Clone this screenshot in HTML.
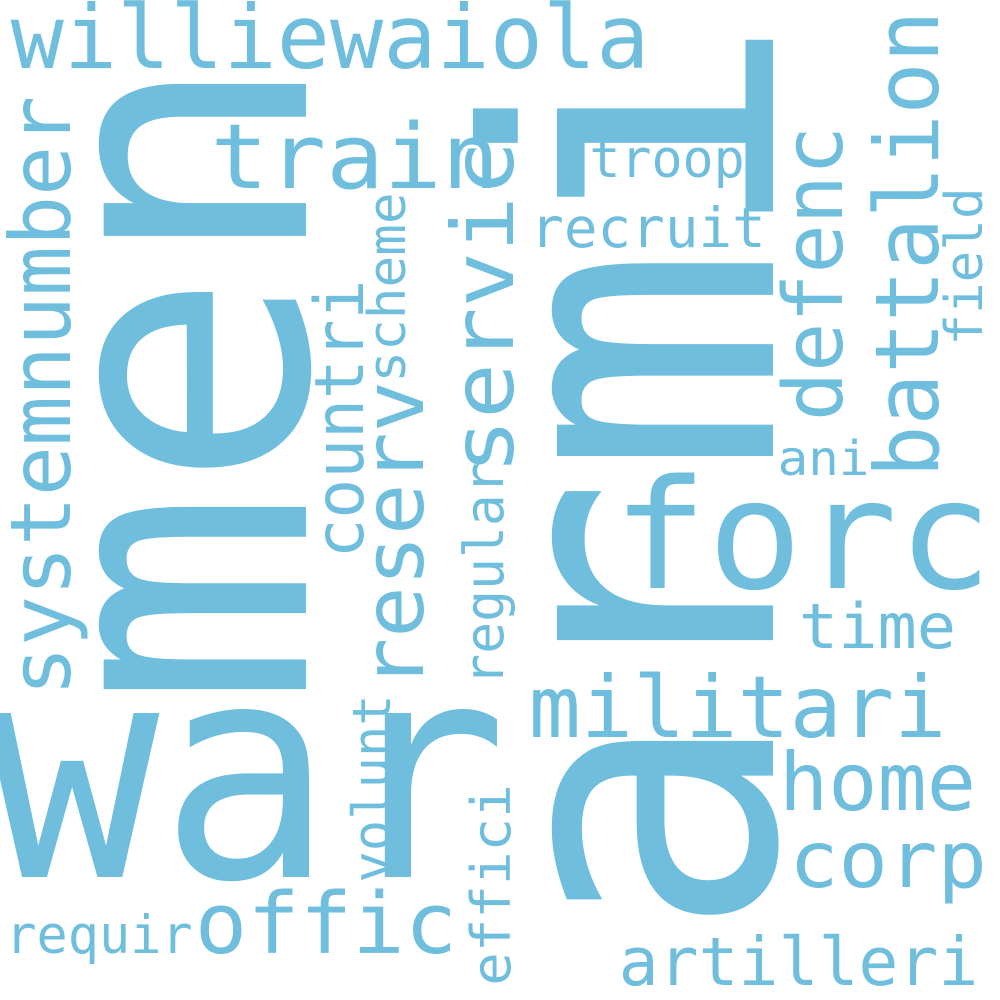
<!DOCTYPE html>
<html><head><meta charset="utf-8"><style>
html,body{margin:0;padding:0;background:#fff;}
svg{display:block;}
text{font-family:"DejaVu Sans Mono","Liberation Mono",monospace;fill:#70bedd;}
</style></head><body>
<svg id="cloud" width="1000" height="1000" viewBox="0 0 1000 1000" xmlns="http://www.w3.org/2000/svg">
<rect width="1000" height="1000" fill="#fff"/>
</svg>
<script>
const words = ["williewaiola","train","troop","recruit","forc","ani","time","militari","home","corp","artilleri","offic","requir","war",
"systemnumber","men","countri","scheme","reserv","servic","regular","armi","defenc","battalion","field","volunt","effici"];
const sizes = [88,90,53,55,152,48,62,86,80,78,67,85,53,300,
84,370,68,52,84,86,54,395,82,88,52,53,54];
const vertical = [0,0,0,0,0,0,0,0,0,0,0,0,0,0,
1,1,1,1,1,1,1,1,1,1,1,1,1];
const anchorX = [15,215,592,533,620,780,802,533,783,793,622,199,8,0,
70,306,363,405,423,513,503,773,842,938,982,390,510];
const anchorY = [68,188,177,247,588,475,648,737,810,887,985,953,953,877,
692,690,555,380,685,470,683,920,417,473,343,880,983];
const spans = [630,280,150,230,365,87,151,409,189,190,353,254,182,493,
592,620,272,185,300,325,218,887,287,458,153,183,196];
const svg = document.getElementById('cloud');
const NS = 'http://www.w3.org/2000/svg';
for (let i = 0; i < words.length; i++) {
  const s = sizes[i];
  const t = document.createElementNS(NS, 'text');
  t.textContent = words[i];
  t.setAttribute('font-size', s);
  t.setAttribute('textLength', spans[i] + 0.1 * s);
  t.setAttribute('lengthAdjust', 'spacingAndGlyphs');
  if (vertical[i]) {
    t.setAttribute('x', 0);
    t.setAttribute('y', 0);
    t.setAttribute('transform', 'translate(' + anchorX[i] + ',' + (anchorY[i] + 0.05 * s) + ') rotate(-90)');
  } else {
    t.setAttribute('x', anchorX[i] - 0.05 * s);
    t.setAttribute('y', anchorY[i]);
  }
  
  
  svg.appendChild(t);
}
</script>
</body></html>
